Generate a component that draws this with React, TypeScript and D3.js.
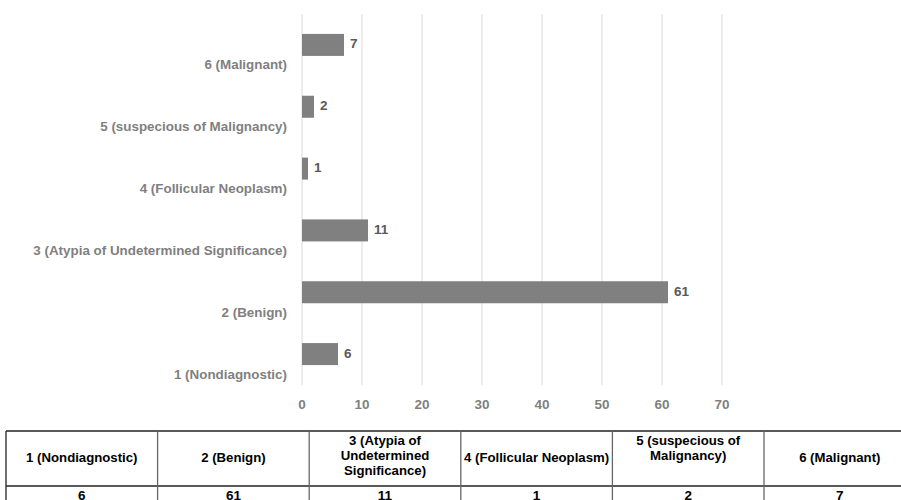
import React from "react";
import * as d3 from "d3";

// Bethesda category counts
const categories = [
  "1 (Nondiagnostic)",
  "2 (Benign)",
  "3 (Atypia of Undetermined Significance)",
  "4 (Follicular Neoplasm)",
  "5 (suspecious of Malignancy)",
  "6 (Malignant)",
];
const counts = [6, 61, 11, 1, 2, 7];
const xTicks = [0, 10, 20, 30, 40, 50, 60, 70];

// Header text of the data table, one entry per wrapped line
const tableHeaders = [
  ["1 (Nondiagnostic)"],
  ["2 (Benign)"],
  ["3 (Atypia of", "Undetermined", "Significance)"],
  ["4 (Follicular Neoplasm)"],
  ["5 (suspecious of", "Malignancy)"],
  ["6 (Malignant)"],
];

const W = 901;
const H = 500;
const FONT = "'Liberation Sans', Arial, sans-serif";

export default function App() {
  const x = d3.scaleLinear().domain([0, 70]).range([302, 722]);
  const y = d3
    .scaleBand<string>()
    .domain([...categories].reverse())
    .range([14, 385])
    .padding(0);
  const barH = y.bandwidth() * 0.356;

  const colW = 151.6;
  const colX = d3.range(7).map((i) => 6 + i * colW);
  const tableTop = 431;
  const rowDiv = 486;

  return (
    <svg
      width={W}
      height={H}
      style={{ position: "absolute", left: 0, top: 0, background: "#fff" }}
      fontFamily={FONT}
    >
      {/* vertical gridlines */}
      {xTicks.map((t) => (
        <line
          key={"g" + t}
          x1={x(t)}
          x2={x(t)}
          y1={14}
          y2={385}
          stroke="#d9d9d9"
          strokeWidth={1}
        />
      ))}
      {/* x tick labels */}
      {xTicks.map((t) => (
        <text
          key={"t" + t}
          x={x(t)}
          y={405}
          textAnchor="middle"
          dominantBaseline="middle"
          fontSize={13.5}
          fontWeight="bold"
          fill="#7f7f7f"
        >
          {t}
        </text>
      ))}
      {/* bars, category labels and value labels */}
      {categories.map((c, i) => {
        const cy = (y(c) ?? 0) + y.bandwidth() / 2;
        const v = counts[i];
        return (
          <g key={c}>
            <rect
              x={x(0)}
              y={cy - barH / 2}
              width={x(v) - x(0)}
              height={barH}
              fill="#808080"
            />
            <text
              x={x(v) + 6}
              y={cy}
              dominantBaseline="middle"
              fontSize={13.5}
              fontWeight="bold"
              fill="#595959"
            >
              {v}
            </text>
            <text
              x={287}
              y={cy + 21}
              textAnchor="end"
              dominantBaseline="middle"
              fontSize={13.4}
              fontWeight="bold"
              fill="#7f7f7f"
            >
              {c}
            </text>
          </g>
        );
      })}

      {/* data table */}
      <g>
        <line x1={colX[0]} x2={W + 20} y1={tableTop} y2={tableTop} stroke="#222" strokeWidth={1.3} />
        <line x1={colX[0]} x2={W + 20} y1={rowDiv} y2={rowDiv} stroke="#222" strokeWidth={1.3} />
        {colX.map((cx, i) => (
          <line
            key={"cl" + i}
            x1={cx}
            x2={cx}
            y1={tableTop}
            y2={H}
            stroke={i === 0 ? "#222" : "#666"}
            strokeWidth={1.3}
          />
        ))}
        {tableHeaders.map((lines, i) => {
          const cx = colX[i] + colW / 2;
          const ys =
            lines.length === 1
              ? [459]
              : lines.map((_, k) => 442 + k * 15);
          return (
            <g key={"h" + i}>
              {lines.map((ln, k) => (
                <text
                  key={k}
                  x={cx}
                  y={ys[k]}
                  textAnchor="middle"
                  dominantBaseline="middle"
                  fontSize={13.2}
                  fontWeight="bold"
                  fill="#000"
                >
                  {ln}
                </text>
              ))}
              <text
                x={cx}
                y={500}
                textAnchor="middle"
                fontSize={13.5}
                fontWeight="bold"
                fill="#000"
              >
                {counts[i]}
              </text>
            </g>
          );
        })}
      </g>
    </svg>
  );
}
